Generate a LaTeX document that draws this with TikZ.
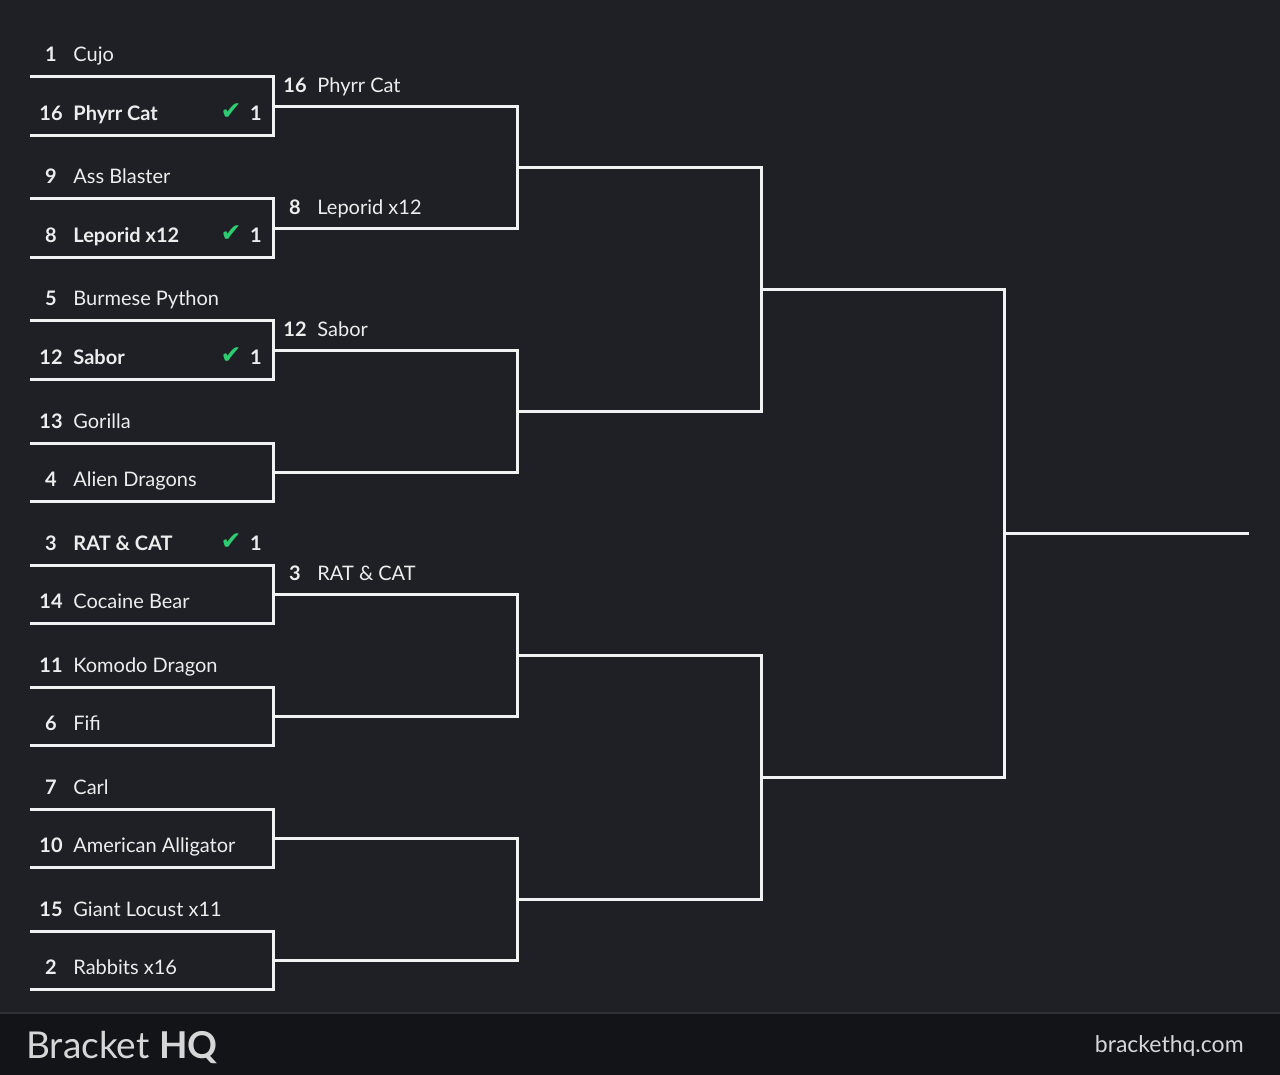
\documentclass[tikz,border=0pt]{standalone}
\usepackage{fontspec}
\setmainfont{Lato}
\newfontfamily\symfont{DejaVu Sans}
\usetikzlibrary{positioning,calc}
\definecolor{pageBg}{HTML}{1F2025}
\definecolor{footBg}{HTML}{131418}
\definecolor{footRule}{HTML}{2E2F35}
\definecolor{lineWhite}{HTML}{F2F2F2}
\definecolor{inkWhite}{HTML}{EDEDED}
\definecolor{winGreen}{HTML}{2ECC71}
\definecolor{footInk}{HTML}{D6D6D6}

\begin{document}
\begin{tikzpicture}[x=0.5pt, y=-0.5pt,
      bline/.style={draw=lineWhite, line width=1.5pt, line cap=rect},
      seednum/.style={font=\fontsize{10}{12}\selectfont\bfseries, text=inkWhite, anchor=base, inner sep=0pt},
      teamname/.style={font=\fontsize{10}{12}\selectfont, text=inkWhite, anchor=base west, inner sep=0pt},
      winname/.style={teamname, font=\fontsize{10}{12}\selectfont\bfseries},
      checkmark/.style={font=\symfont\fontsize{12.5}{14}\selectfont, text=winGreen, anchor=base, inner sep=0pt},
      score/.style={seednum}]
    \useasboundingbox (0,0) rectangle (1280,1075);
    \fill[pageBg] (-4,-4) rectangle (1284,1079);
    \fill[footBg] (-4,1013) rectangle (1284,1079);
    \draw[footRule, line width=1pt] (-4,1013) -- (1284,1013);
    % first round: sixteen slots
    \foreach \s/\t/\w [count=\i from 0] in {1/Cujo/0, 16/Phyrr Cat/1, 9/Ass Blaster/0, 8/Leporid x12/1,
        5/Burmese Python/0, 12/Sabor/1, 13/Gorilla/0, 4/Alien Dragons/0,
        3/RAT \& CAT/1, 14/Cocaine Bear/0, 11/Komodo Dragon/0, 6/Fifi/0,
        7/Carl/0, 10/American Alligator/0, 15/Giant Locust x11/0, 2/Rabbits x16/0} {
      \pgfmathsetmacro\y{77+122*int(\i/2)+58.5*mod(\i,2)}
      \coordinate (s1-\i) at (31,\y);
      \coordinate (e1-\i) at (273,\y);
      \draw[bline] (s1-\i) -- (e1-\i);
      \node[seednum] (seed\i) at ($(s1-\i)+(20,-15)$) {\s};
      \ifnum\w=1
        \node[winname] (team\i) at ($(s1-\i)+(42,-15)$) {\t};
        \node[checkmark] (chk\i) at ($(s1-\i)+(200,-16)$) {✔};
        \node[score] (pts\i) at ($(s1-\i)+(225,-15)$) {1};
      \else
        \node[teamname] (team\i) at ($(s1-\i)+(42,-15)$) {\t};
      \fi
    }
    % later rounds
    \foreach \r/\xa/\xb/\n/\gap in {2/273/517/7/122, 3/517/761/3/244, 4/761/1004/1/488, 5/1004/1247/0/976} {
      \foreach \m in {0,...,\n} {
        \pgfmathsetmacro\y{106.25+61*(\gap/122-1)+\gap*\m}
        \coordinate (s\r-\m) at (\xa,\y);
        \coordinate (e\r-\m) at (\xb,\y);
        \draw[bline] (s\r-\m) -- (e\r-\m);
      }
    }
    \foreach \r/\n in {1/7, 2/3, 3/1, 4/0} {
      \foreach \k in {0,...,\n} {
        \pgfmathtruncatemacro\ka{2*\k}
        \pgfmathtruncatemacro\kb{2*\k+1}
        \draw[bline] (e\r-\ka) -- (e\r-\kb);
      }
    }
    % second round winners
    \foreach \m/\s/\t in {0/16/Phyrr Cat, 1/8/Leporid x12, 2/12/Sabor, 4/3/RAT \& CAT} {
      \node[seednum] (wseed\m) at ($(s2-\m)+(22,-14)$) {\s};
      \node[teamname] (wteam\m) at ($(s2-\m)+(44,-14)$) {\t};
    }
    \node[anchor=base west, inner sep=0pt, text=footInk, font=\fontsize{18.5}{22}\selectfont] (brand) at (26,1058) {Bracket \textbf{HQ}};
    \node[anchor=base east, inner sep=0pt, text=footInk, font=\fontsize{11.5}{14}\selectfont] (site) at (1244,1052) {brackethq.com};
  \end{tikzpicture}
\end{document}
